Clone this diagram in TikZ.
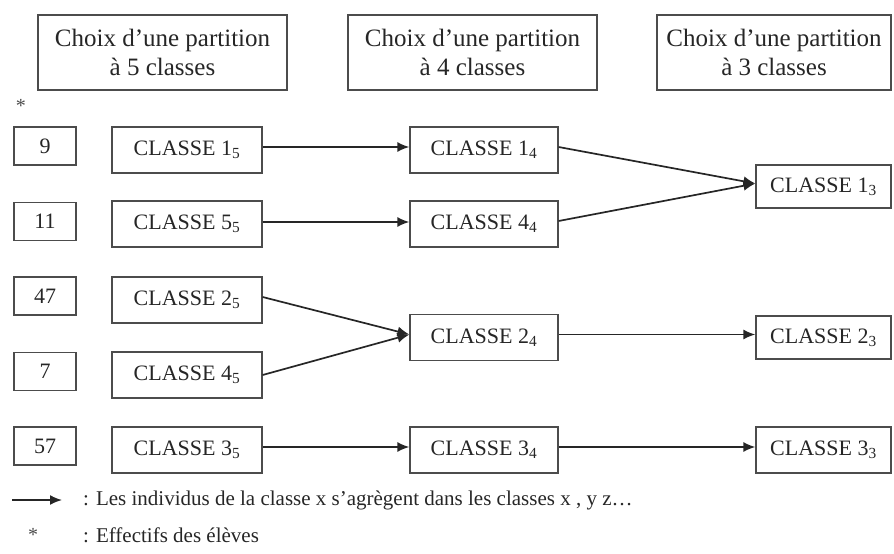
\documentclass[tikz,border=0pt]{standalone}
\usepackage{fontspec}
\setmainfont{Liberation Serif}
\usetikzlibrary{arrows.meta}
\begin{document}
\begin{tikzpicture}[x=1pt,y=-1pt,
  box/.style={draw=black!70,line width=1.2pt,inner sep=0pt,align=center,text=black!85},
  hdr/.style={box,minimum height=75pt,font=\fontsize{25}{29}\selectfont},
  num/.style={box,minimum width=62pt,minimum height=38pt,font=\fontsize{22}{24}\selectfont},
  cls/.style={box,minimum height=46pt,font=\fontsize{22}{24}\selectfont},
  arr/.style={line width=1.7pt,black!85,-{Latex[length=12pt,width=10pt]}},
  up/.style={yshift=3pt},
  lbl/.style={anchor=west,inner sep=0pt,text=black!85,font=\fontsize{21}{24}\selectfont}]
\useasboundingbox (0,0) rectangle (894,554);
% headers
\node[hdr,minimum width=249pt] (h5) at (162.5,52.5) {Choix d’une partition\\à 5 classes};
\node[hdr,minimum width=249pt] (h4) at (472.5,52.5) {Choix d’une partition\\à 4 classes};
\node[hdr,minimum width=234pt] (h3) at (774,52.5) {Choix d’une partition\\à 3 classes};
\node[inner sep=0pt,text=black!70,font=\fontsize{20}{22}\selectfont] (star) at (21,106) {*};
% counts
\node[num] (n1) at (45,146) {9};
\node[num] (n2) at (45,221.5) {11};
\node[num] (n3) at (45,296) {47};
\node[num] (n4) at (45,371.5) {7};
\node[num] (n5) at (45,446) {57};
% 5 classes
\node[cls,minimum width=150pt] (a1) at (187,150) {CLASSE 1\textsubscript{5}};
\node[cls,minimum width=150pt] (a5) at (187,224) {CLASSE 5\textsubscript{5}};
\node[cls,minimum width=150pt] (a2) at (187,300) {CLASSE 2\textsubscript{5}};
\node[cls,minimum width=150pt] (a4) at (187,375) {CLASSE 4\textsubscript{5}};
\node[cls,minimum width=150pt] (a3) at (187,450) {CLASSE 3\textsubscript{5}};
% 4 classes
\node[cls,minimum width=148pt] (b1) at (484,150) {CLASSE 1\textsubscript{4}};
\node[cls,minimum width=148pt] (b4) at (484,224) {CLASSE 4\textsubscript{4}};
\node[cls,minimum width=148pt] (b2) at (484,337.5) {CLASSE 2\textsubscript{4}};
\node[cls,minimum width=148pt] (b3) at (484,450) {CLASSE 3\textsubscript{4}};
% 3 classes
\node[cls,minimum width=135pt,minimum height=43pt] (c1) at (823.5,186.5) {CLASSE 1\textsubscript{3}};
\node[cls,minimum width=135pt,minimum height=43pt] (c2) at (823.5,337.5) {CLASSE 2\textsubscript{3}};
\node[cls,minimum width=135pt,minimum height=46pt] (c3) at (823.5,450) {CLASSE 3\textsubscript{3}};
% arrows
\draw[arr] ([up]a1.east) -- ([up]b1.west);
\draw[arr] ([yshift=2pt]a5.east) -- ([yshift=2pt]b4.west);
\draw[arr] ([up]a2.east) -- ([up]b2.west);
\draw[arr] (a4.east) -- ([up]b2.west);
\draw[arr] ([up]a3.east) -- ([up]b3.west);
\draw[arr] ([up]b1.east) -- ([up]c1.west);
\draw[arr] ([up]b4.east) -- ([up]c1.west);
\draw[arr] ([up]b2.east) -- ([up]c2.west);
\draw[arr] ([up]b3.east) -- ([up]c3.west);
% legend
\coordinate (l1) at (12,500);
\coordinate (l2) at (62,500);
\draw[arr] (l1) -- (l2);
\node[lbl] (t1) at (83,500) {: Les individus de la classe x s’agrègent dans les classes x , y z…};
\node[inner sep=0pt,text=black!70,font=\fontsize{20}{22}\selectfont] (star2) at (33,535) {*};
\node[lbl] (t2) at (83,535) {: Effectifs des élèves};
\end{tikzpicture}
\end{document}
